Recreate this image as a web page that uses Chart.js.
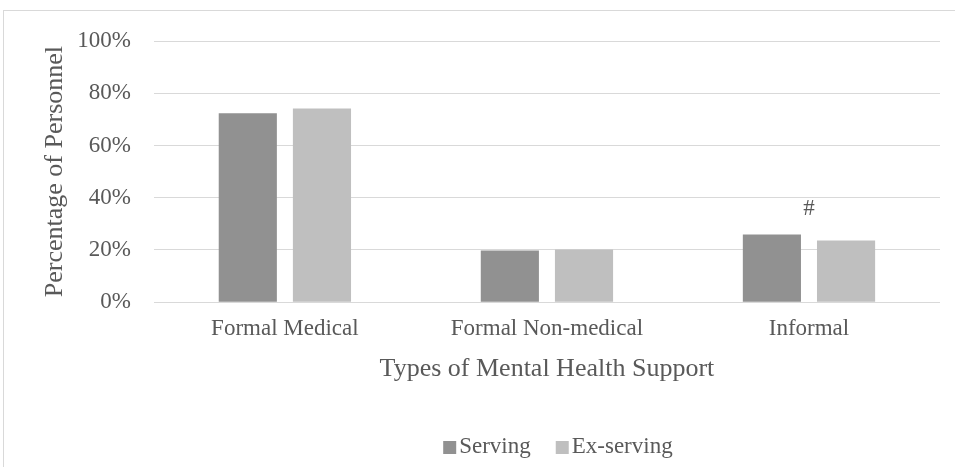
<!DOCTYPE html>
<html>
<head>
<meta charset="utf-8">
<script src="https://cdn.jsdelivr.net/npm/chart.js@4"></script>
<style>
body { margin: 0; background: #fff; }
#wrap { position: relative; width: 955px; height: 467px; overflow: hidden; }
#frame { position: absolute; left: 3px; top: 10px; width: 960px; height: 470px;
         border-top: 1px solid #d9d9d9; border-left: 1px solid #d9d9d9; }
#chart { position: absolute; left: 0; top: 0; }
</style>
</head>
<body>
<div id="wrap">
  <div id="frame"></div>
  <canvas id="chart" width="955" height="467"></canvas>
</div>
<script>
// data
var categories = ['Formal Medical', 'Formal Non-medical', 'Informal'];
var serving = [72.3, 19.8, 25.9];
var exServing = [74.2, 20.2, 23.6];
var notes = ['', '', '#'];
var yMin = 0, yMax = 100, yStep = 20;

var textColor = '#595959';
var serif = "'Liberation Serif', 'Times New Roman', serif";

// draws the small marks (#) above a category
var notePlugin = {
    id: 'notes',
    afterDatasetsDraw: function (chart) {
        var ctx = chart.ctx;
        var x = chart.scales.x, y = chart.scales.y;
        ctx.save();
        ctx.fillStyle = textColor;
        ctx.font = '23px ' + serif;
        ctx.textAlign = 'center';
        ctx.textBaseline = 'middle';
        notes.forEach(function (n, i) {
            if (!n) return;
            var top = Math.max(serving[i], exServing[i]);
            ctx.fillText(n, x.getPixelForValue(i), y.getPixelForValue(top) - 26);
        });
        ctx.restore();
    }
};

// legend drawn by hand: small square, short gap, label (like the original)
var legendPlugin = {
    id: 'squareLegend',
    afterDraw: function (chart) {
        var ctx = chart.ctx;
        var ds = chart.data.datasets;
        ctx.save();
        ctx.font = '23px ' + serif;
        ctx.textBaseline = 'alphabetic';
        var box = 13, gap = 3, between = 25;
        var total = 0;
        ds.forEach(function (d, i) {
            total += box + gap + ctx.measureText(d.label).width;
            if (i < ds.length - 1) total += between;
        });
        var cx = (chart.chartArea.left + chart.chartArea.right) / 2 + 11;
        var x = cx - total / 2;
        var base = 453;
        ds.forEach(function (d) {
            ctx.fillStyle = d.backgroundColor;
            ctx.fillRect(x, base - 12, box, box);
            x += box + gap;
            ctx.fillStyle = textColor;
            ctx.fillText(d.label, x, base);
            x += ctx.measureText(d.label).width + between;
        });
        ctx.restore();
    }
};

var ctx = document.getElementById('chart').getContext('2d');
var chart = new Chart(ctx, {
    type: 'bar',
    data: {
        labels: categories,
        datasets: [{
            label: 'Serving',
            data: serving,
            backgroundColor: '#919191',
            borderWidth: 0,
            categoryPercentage: 0.566,
            barPercentage: 0.784
        }, {
            label: 'Ex-serving',
            data: exServing,
            backgroundColor: '#bfbfbf',
            borderWidth: 0,
            categoryPercentage: 0.566,
            barPercentage: 0.784
        }]
    },
    options: {
        responsive: false,
        animation: false,
        layout: { padding: { left: 40, right: 15, top: 41, bottom: 0 } },
        plugins: {
            tooltip: { enabled: false },
            legend: { display: false }
        },
        scales: {
            x: {
                grid: { display: false },
                border: { display: false },
                ticks: { color: textColor, font: { family: serif, size: 23 }, padding: 5 },
                title: {
                    display: true,
                    text: 'Types of Mental Health Support',
                    color: textColor,
                    font: { family: serif, size: 26 },
                    padding: { top: 6, bottom: 82 }
                }
            },
            y: {
                min: yMin,
                max: yMax,
                grid: { color: '#d9d9d9', lineWidth: 1, drawTicks: false },
                border: { display: false },
                ticks: {
                    stepSize: yStep,
                    color: textColor,
                    font: { family: serif, size: 23 },
                    padding: 23,
                    callback: function (v) { return v + '%'; }
                },
                title: {
                    display: true,
                    text: 'Percentage of Personnel',
                    color: textColor,
                    font: { family: serif, size: 26 },
                    padding: { top: 0, bottom: -17 }
                }
            }
        }
    },
    plugins: [notePlugin, legendPlugin]
});
</script>
</body>
</html>
